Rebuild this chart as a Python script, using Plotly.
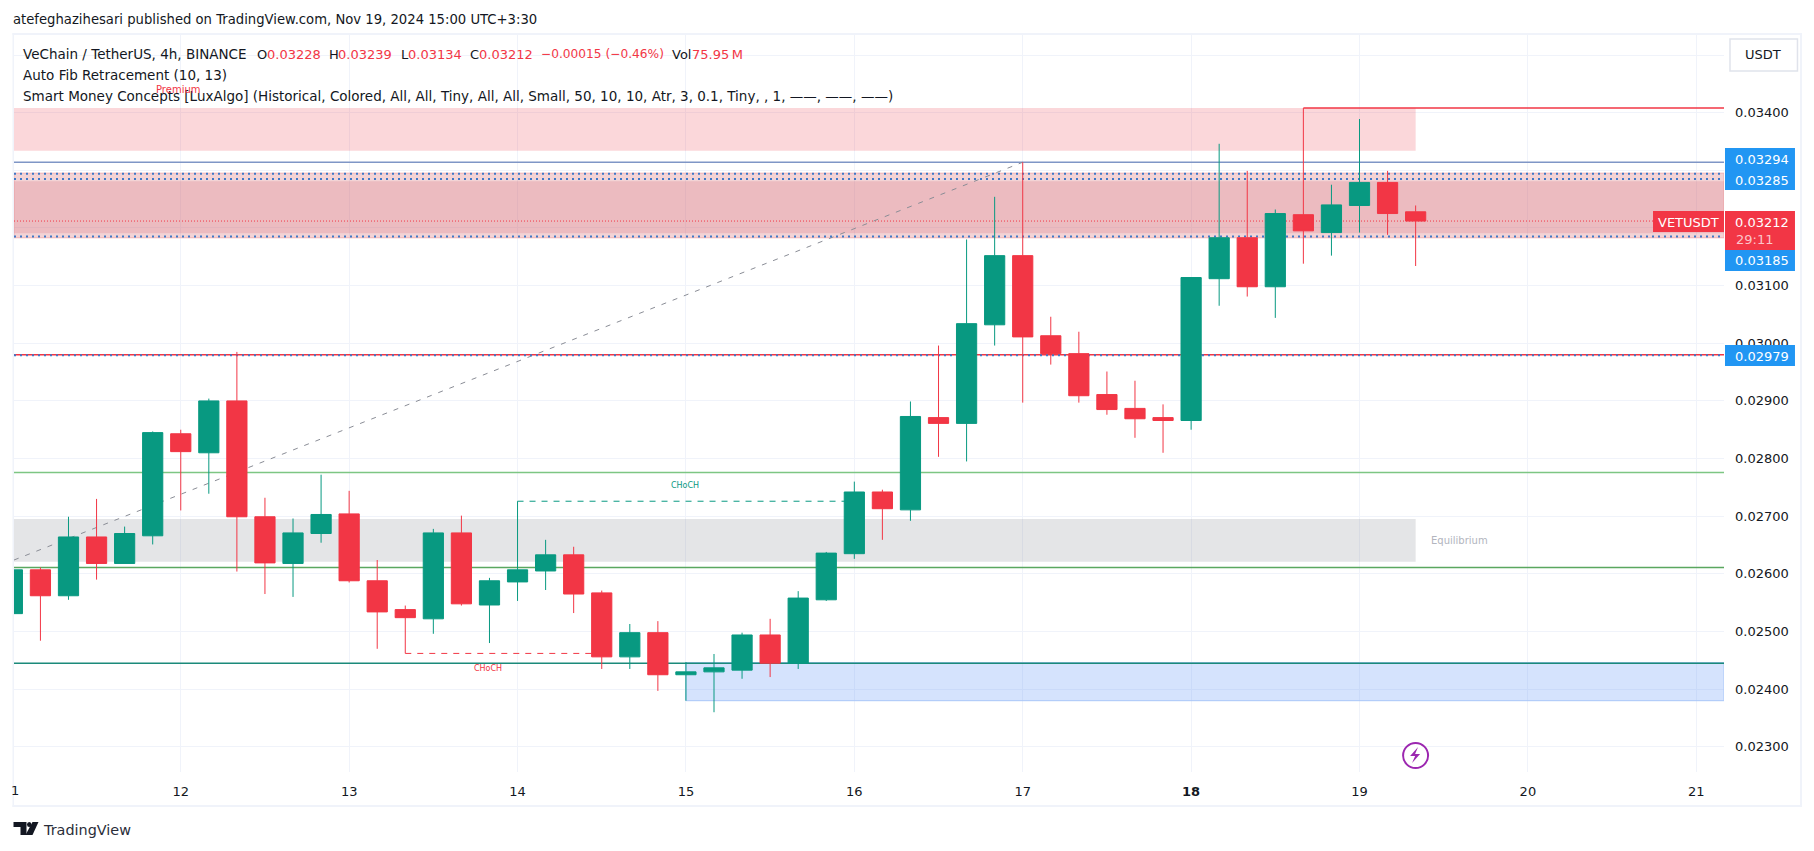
import pandas as pd
import plotly.graph_objects as go

# 4h candles, in 1e-5 USDT
opens = [2531, 2607, 2562, 2664, 2618, 2666, 2843, 2810, 2900, 2699, 2618, 2670, 2704, 2588, 2538, 2522, 2671,
         2546, 2586, 2605, 2633, 2567, 2456, 2498, 2425, 2430, 2433, 2494, 2445, 2555, 2635, 2742, 2711, 2871,
         2861, 3032, 3152, 3013, 2982, 2911, 2887, 2871, 2866, 3112, 3183, 3098, 3223, 3192, 3239, 3279, 3228]
highs = [2610, 2611, 2699, 2730, 2682, 2847, 2850, 2904, 2985, 2732, 2696, 2772, 2744, 2624, 2545, 2678, 2701,
         2593, 2726, 2659, 2647, 2571, 2513, 2518, 2447, 2461, 2498, 2522, 2570, 2638, 2760, 2746, 2899, 2996,
         3180, 3254, 3314, 3046, 3020, 2951, 2935, 2894, 3114, 3346, 3299, 3232, 3408, 3275, 3389, 3299, 3239]
lows = [2529, 2484, 2555, 2590, 2618, 2651, 2710, 2739, 2604, 2565, 2560, 2654, 2585, 2470, 2462, 2496, 2545,
        2480, 2553, 2572, 2532, 2435, 2435, 2397, 2380, 2360, 2418, 2421, 2435, 2553, 2626, 2659, 2692, 2803,
        2795, 2996, 2897, 2963, 2897, 2876, 2836, 2810, 2850, 3065, 3081, 3044, 3138, 3152, 3192, 3188, 3134]
closes = [2607, 2562, 2664, 2618, 2670, 2845, 2812, 2900, 2699, 2619, 2671, 2703, 2588, 2534, 2524, 2671, 2548,
          2588, 2607, 2633, 2565, 2456, 2498, 2425, 2430, 2437, 2494, 2445, 2558, 2636, 2742, 2713, 2873, 2861,
          3034, 3152, 3011, 2982, 2909, 2885, 2869, 2866, 3114, 3183, 3098, 3225, 3195, 3240, 3279, 3225, 3212]
times = pd.date_range("2024-11-11 00:00", periods=len(opens), freq="4h")

day_ticks = ["2024-11-%02d" % d for d in range(12, 22)]
day_labels = ["12", "13", "14", "15", "16", "17", "<b>18</b>", "19", "20", "21"]
price_ticks = [0.023, 0.024, 0.025, 0.026, 0.027, 0.028, 0.029, 0.030, 0.031, 0.032, 0.033, 0.034, 0.035]
price_labels = ["0.02300", "0.02400", "0.02500", "0.02600", "0.02700", "0.02800", "0.02900", "0.03000", "0.03100",
                "", "", "0.03400", ""]

# indicator levels
x_start = "2024-11-11 00:14"
x_end = "2024-11-21 03:57"
zone_end = "2024-11-19 08:00"
premium_zone = [0.03334, 0.03408]
equilibrium_zone = [0.02621, 0.02695]
discount_zone = [0.02380, 0.02446]
supply_outer = [0.03183, 0.03295]
supply_inner = [0.03191, 0.03281]
fib_levels = [0.03294, 0.03285, 0.03185, 0.02979]
current_price = 0.03212
upper_line = 0.03314
red_level = 0.02980
top_level = 0.03408
green_light = 0.02776
green_dark = 0.02611
teal_line = 0.02445
fib_trend = [("2024-11-11 00:14", 0.02624), ("2024-11-17 00:00", 0.03314)]
choch_up = [("2024-11-14 00:00", "2024-11-16 00:00"), 0.02726]
choch_down = [("2024-11-13 08:00", "2024-11-14 12:00"), 0.02462]

RED = "#f23645"
GREEN = "#089981"
BLUE = "#2196f3"
FRAME = "#f0f3fa"
GRID = "#f0f3fa"
FONT = "DejaVu Sans"

L, R, T, B = 13.5, 1724, 35, 772
W, H = 1814, 851


def px(x):
    return (x - L) / (R - L)


def py(y):
    return 1 - (y - T) / (B - T)


def hline(y, color, width=1, dash="solid", x0=x_start, x1=x_end):
    return dict(type="line", layer="between", xref="x", yref="y", x0=x0, x1=x1, y0=y, y1=y,
                line=dict(color=color, width=width, dash=dash))


def band(x0, x1, ys, fill, line=None):
    return dict(type="rect", layer="between", xref="x", yref="y", x0=x0, x1=x1, y0=ys[0], y1=ys[1],
                fillcolor=fill, line=dict(width=1 if line else 0, color=line or "rgba(0,0,0,0)"))


def box(x0, y0, x1, y1, fill):
    return dict(type="rect", layer="above", xref="paper", yref="paper", x0=px(x0), x1=px(x1), y0=py(y0), y1=py(y1),
                fillcolor=fill, line=dict(width=0))


def poly(points, fill):
    path = "M" + " L".join("%.5f,%.5f" % (px(a), py(b)) for a, b in points) + " Z"
    return dict(type="path", layer="above", xref="paper", yref="paper", path=path, fillcolor=fill, line=dict(width=0))


def text(x, y, s, size=13, color="#131722", anchor="left", family=FONT):
    return dict(xref="paper", yref="paper", x=px(x), y=py(y), text=s, showarrow=False, xanchor=anchor, yanchor="middle",
                font=dict(size=size, color=color, family=family), borderpad=0, borderwidth=0)


fig = go.Figure()
fig.add_trace(go.Candlestick(
    x=times,
    open=[v / 1e5 for v in opens],
    high=[v / 1e5 for v in highs],
    low=[v / 1e5 for v in lows],
    close=[v / 1e5 for v in closes],
    increasing=dict(line=dict(color=GREEN, width=1), fillcolor=GREEN),
    decreasing=dict(line=dict(color=RED, width=1), fillcolor=RED),
    whiskerwidth=0,
    showlegend=False,
))

shapes = [
    band(x_start, zone_end, premium_zone, "rgba(235,55,70,0.2)"),
    band(x_start, zone_end, equilibrium_zone, "rgba(120,123,134,0.2)"),
    band("2024-11-15 00:00", x_end, discount_zone, "rgba(87,143,247,0.25)", "#a9c7f8"),
    band(x_start, x_end, supply_outer, "rgba(215,108,115,0.3)", "#f2b0b2"),
    band(x_start, x_end, supply_inner, "rgba(208,96,108,0.2)"),
    hline(upper_line, "#7f96c6", 1.5),
    hline(green_light, "#7dc683", 1.5),
    hline(green_dark, "#5aa75f", 1.5),
    hline(teal_line, "#1b8a7a", 1.5),
    hline(red_level, RED, 1.5),
    hline(top_level, RED, 1.5, x0="2024-11-18 16:00"),
    hline(current_price, RED, 1, "1px,2px"),
    dict(type="line", layer="between", xref="x", yref="y", x0=fib_trend[0][0], y0=fib_trend[0][1],
         x1=fib_trend[1][0], y1=fib_trend[1][1], line=dict(color="#8a8d96", width=1, dash="5px,7px")),
    hline(choch_up[1], GREEN, 1, "6px,6px", x0=choch_up[0][0], x1=choch_up[0][1]),
    hline(choch_down[1], RED, 1, "6px,6px", x0=choch_down[0][0], x1=choch_down[0][1]),
]
shapes += [hline(v, "#3f78c8", 2, "2px,4px") for v in fib_levels]

# frame round the chart
shapes += [
    box(12, 33, 1802, 35, FRAME), box(12, 33, 13.5, 807, FRAME),
    box(12, 805, 1802, 807, FRAME), box(1800, 33, 1802, 807, FRAME),
]

# price labels on the axis
shapes += [
    box(1725, 148, 1795, 190, BLUE),
    box(1653, 211, 1724, 232, RED),
    box(1725, 211, 1795, 250, RED),
    box(1725, 250, 1795, 271, BLUE),
    box(1725, 345, 1795, 366, BLUE),
]

# USDT button
shapes.append(dict(
    type="rect", layer="above", xref="paper", yref="paper", x0=px(1730), x1=px(1797.5), y0=py(39), y1=py(71),
    fillcolor="white", line=dict(color="#e0e3eb", width=1.5)))

# lightning mark
shapes.append(dict(
    type="circle", layer="above", xref="paper", yref="paper", x0=px(1403), x1=px(1428), y0=py(743), y1=py(768),
    fillcolor="white", line=dict(color="#9c27b0", width=2)))
shapes.append(poly([(1418, 747), (1410, 756), (1415, 756), (1412, 763), (1420, 754), (1415, 754)], "#9c27b0"))

# TradingView logo
shapes.append(poly([(13, 822), (26, 822), (26, 835), (20, 835), (20, 827), (13, 827)], "#131722"))
shapes.append(poly([(32, 822), (38, 822), (32, 835), (25, 835)], "#131722"))
shapes.append(dict(type="circle", layer="above", xref="paper", yref="paper", x0=px(26.5), x1=px(31), y0=py(822),
                   y1=py(827), fillcolor="#131722", line=dict(width=0)))

header_3 = ("Smart Money Concepts [LuxAlgo] (Historical, Colored, All, All, Tiny, All, All, Small, 50, 10, 10, Atr, 3, "
            "0.1, Tiny, , 1, \u2014\u2014, \u2014\u2014, \u2014\u2014)")

annotations = [
    text(12, 20, "atefeghazihesari published on TradingView.com, Nov 19, 2024 15:00 UTC+3:30", 13.2),
    text(23, 54, "VeChain / TetherUS, 4h, BINANCE", 13.5),
    text(257, 54, "O", 13),
    text(267, 54, "0.03228", 13, RED),
    text(328.5, 54, "H", 13),
    text(338, 54, "0.03239", 13, RED),
    text(400.5, 54, "L", 13),
    text(408, 54, "0.03134", 13, RED),
    text(470, 54, "C", 13),
    text(479, 54, "0.03212", 13, RED),
    text(540.5, 54, "\u22120.00015 (\u22120.46%)", 12.2, RED),
    text(671.5, 54, "Vol", 13),
    text(692, 54, "75.95\u2009M", 13, RED),
    text(23, 75, "Auto Fib Retracement (10, 13)", 13.5),
    text(23, 96, header_3, 13.5),
    text(156, 89, "Premium", 10, RED),
    text(1431, 540, "Equilibrium", 10, "#b2b5be"),
    text(474, 668, "CHoCH", 8, RED),
    text(671, 485, "CHoCH", 8, GREEN),
    text(1763.5, 55, "USDT", 13, "#131722", "center"),
    text(1762, 159, "0.03294", 13, "white", "center"),
    text(1762, 180, "0.03285", 13, "white", "center"),
    text(1688.5, 222, "VETUSDT", 13, "white", "center"),
    text(1762, 222, "0.03212", 13, "white", "center"),
    text(1736, 240, "29:11", 13, "#fbc5ca"),
    text(1762, 261, "0.03185", 13, "white", "center"),
    text(1762, 356, "0.02979", 13, "white", "center"),
    text(10, 790, "1", 13, "#131722"),
    text(43, 830, "TradingView", 14.4, "#2a2e39"),
]

fig.update_layout(
    width=W,
    height=H,
    autosize=False,
    margin=dict(l=L, r=W - R, t=T, b=H - B, pad=0),
    paper_bgcolor="white",
    plot_bgcolor="white",
    boxgap=0.28,
    boxgroupgap=0,
    showlegend=False,
    shapes=shapes,
    annotations=annotations,
    font=dict(family=FONT, size=13, color="#131722"),
    xaxis=dict(
        type="date", range=[x_start, x_end], rangeslider=dict(visible=False), tickvals=day_ticks, ticktext=day_labels,
        showgrid=True, gridcolor=GRID, gridwidth=1, showline=False, zeroline=False, ticks="",
        tickfont=dict(size=13, color="#131722", family=FONT), ticklabelstandoff=10,
    ),
    yaxis=dict(
        side="right", range=[0.022563, 0.035347], tickvals=price_ticks, ticktext=price_labels,
        showgrid=True, gridcolor=GRID, gridwidth=1, showline=False, zeroline=False, ticks="",
        tickfont=dict(size=13, color="#131722", family=FONT), ticklabelstandoff=10,
    ),
)

fig.write_html("out.html", config=dict(displayModeBar=False),
               post_script="document.body.style.margin='0';document.body.style.overflow='hidden';")
